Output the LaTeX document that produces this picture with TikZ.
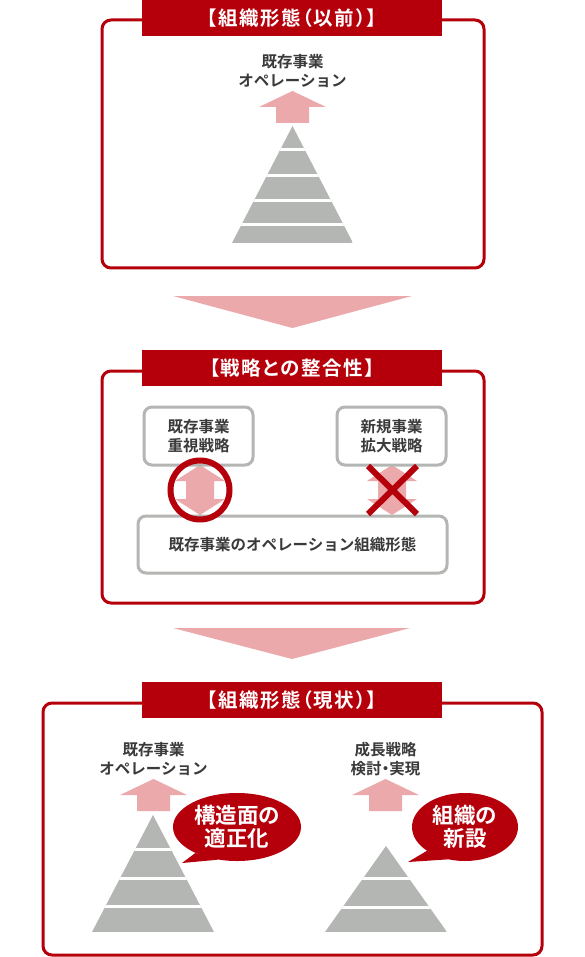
\documentclass[tikz,border=0pt]{standalone}
\usepackage{fontspec}
\setmainfont{Noto Sans CJK JP}[BoldFont={Noto Sans CJK JP Bold}]
\newfontfamily\tightfont{Noto Sans CJK JP}[BoldFont={Noto Sans CJK JP Bold},RawFeature=+palt]
\newfontfamily\headfont{Noto Sans CJK JP}[BoldFont={Noto Sans CJK JP Bold},RawFeature=+palt,LetterSpace=8]
\usetikzlibrary{shapes.geometric}
\definecolor{brand}{HTML}{B5000B}
\definecolor{blush}{HTML}{ECA9AB}
\definecolor{stone}{HTML}{B3B6B2}
\definecolor{ink}{HTML}{3A3A3A}
\newcommand{\middot}{{\tightfont\bfseries ・}}
\tikzset{
  rise/.pic={\fill[blush] (0,0) -- (33.5,16) -- (16.5,16) -- (16.5,32)
      -- (-16.5,32) -- (-16.5,16) -- (-33.5,16) -- cycle;},
  twoway/.pic={\fill[blush] (0,0) -- (25,16) -- (14,16) -- (14,34) -- (25,34)
      -- (0,50) -- (-25,34) -- (-14,34) -- (-14,16) -- (-25,16) -- cycle;}
}

\begin{document}
\begin{tikzpicture}[x=1pt,y=-1pt,
    panel/.style={draw=brand,line width=3pt,rounded corners=9pt,inner sep=0pt},
    titlebar/.style={fill=brand,text=white,font=\headfont\bfseries\fontsize{19.5}{22}\selectfont,
      minimum width=300pt,minimum height=36pt,inner sep=0pt},
    label/.style={text=ink,font=\bfseries\fontsize{15.5}{18.5}\selectfont,align=center,inner sep=0pt},
    card/.style={draw=stone,line width=3pt,rounded corners=8pt,text=ink,
      font=\bfseries\fontsize{15.5}{19.5}\selectfont,align=center,inner sep=0pt},
    bubble/.style={ellipse,fill=brand,text=white,font=\bfseries\fontsize{21.5}{22.5}\selectfont,
      align=center,inner sep=0pt,minimum height=68pt}]
  \useasboundingbox[fill=white] (0,0) rectangle (584,957);

  % before
  \node[panel,minimum width=382pt,minimum height=248pt] (before) at (293,144) {};
  \node[titlebar] (beforetitle) at (292,18) {【組織形態（以前）】};
  \node[label] (beforeops) at (292.5,71) {既存事業\\オペレーション};
  \pic at (292.5,91) {rise};
  \begin{scope}
    \clip (292.5,126) -- (353,243) -- (232,243) -- cycle;
    \fill[stone] (232,126) rectangle (353,243);
    \foreach \y in {149.5,175.5,200.5,224.5}
      \draw[white,line width=3pt] (232,\y) -- (353,\y);
  \end{scope}

  \fill[blush] (173,296) -- (412,296) -- (292.5,328) -- cycle;

  % fit with strategy
  \node[panel,minimum width=382pt,minimum height=232pt] (fit) at (293,487) {};
  \node[titlebar] (fittitle) at (292,368) {【戦略との整合性】};
  \pic at (200,465) {twoway};
  \pic at (392,465) {twoway};
  \node[card,minimum width=109pt,minimum height=58pt] (core) at (198.5,436) {既存事業\\重視戦略};
  \node[card,minimum width=109pt,minimum height=58pt] (growth) at (391.5,436) {新規事業\\拡大戦略};
  \node[card,minimum width=309pt,minimum height=57pt] (org) at (292.5,544.5) {既存事業のオペレーション組織形態};
  \draw[brand,line width=6pt] (200,490) circle (29.5);
  \draw[brand,line width=6pt] (368,466) -- (417,514) (368,514) -- (417,466);

  \fill[blush] (173,628) -- (410,628) -- (292,659) -- cycle;

  % now
  \node[panel,minimum width=499pt,minimum height=252pt] (now) at (292.5,829) {};
  \node[titlebar] (nowtitle) at (292,700) {【組織形態（現状）】};
  \node[label] (nowops) at (153.5,759) {既存事業\\オペレーション};
  \node[label] (plan) at (385.5,759) {成長戦略\\検討\middot 実現};
  \pic at (153.5,779) {rise};
  \pic at (385.5,779) {rise};
  \begin{scope}
    \clip (153,815) -- (214,932) -- (92,932) -- cycle;
    \fill[stone] (92,815) rectangle (214,932);
    \foreach \y in {849.5,878.5,906.5}
      \draw[white,line width=3pt] (92,\y) -- (214,\y);
  \end{scope}
  \begin{scope}
    \clip (386,846) -- (447,932) -- (325,932) -- cycle;
    \fill[stone] (325,846) rectangle (447,932);
    \foreach \y in {878.5,907}
      \draw[white,line width=3pt] (325,\y) -- (447,\y);
  \end{scope}

  \node[bubble,minimum width=128pt] (reshape) at (237,827) {構造面の\\適正化};
  \coordinate (reshapetip) at (182,863);
  \fill[brand] (reshape.212) -- (reshapetip) -- (reshape.240) -- cycle;
  \node[bubble,minimum width=106pt] (newunit) at (465,827) {組織の\\新設};
  \coordinate (newunittip) at (408,862);
  \fill[brand] (newunit.212) -- (newunittip) -- (newunit.242) -- cycle;
\end{tikzpicture}
\end{document}
